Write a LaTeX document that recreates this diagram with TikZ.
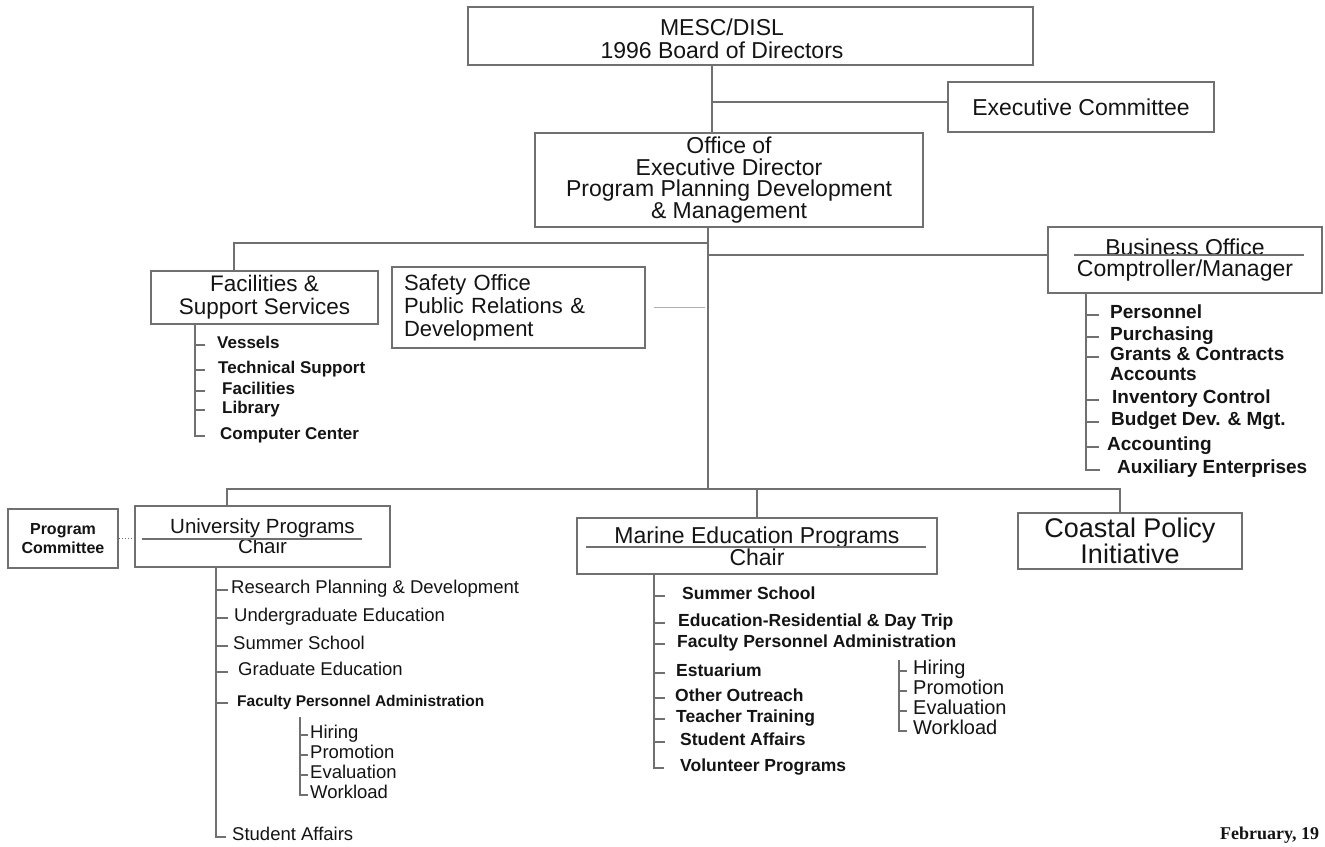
\documentclass[tikz,border=0pt]{standalone}
\usepackage{fontspec}
\setmainfont{Liberation Sans}
\newfontfamily\datefont{Liberation Serif}
\definecolor{rule}{RGB}{112,112,112}
\definecolor{ink}{RGB}{20,20,20}
\begin{document}
\begin{tikzpicture}[x=1pt,y=-1pt,
	box/.style={draw=rule,line width=1.1pt,inner sep=0pt,align=center,text=ink},
	item/.style={anchor=west,inner sep=0pt,text=ink,text height=0.72em,text depth=0pt},
	link/.style={draw=rule,line width=1.1pt}]
	\useasboundingbox[fill=white] (0,0) rectangle (1325,846);
	
	\node[box,minimum width=565pt,minimum height=58pt] (board) at (750.5,36) {};
	\node[text=ink,align=center,font=\fontsize{23}{23}\selectfont] (boardtxt) at (722,38.5) {MESC/DISL\\1996 Board of Directors};
	\node[box,minimum width=266pt,minimum height=50pt,font=\fontsize{23}{23}\selectfont] (exec) at (1081,107) {Executive Committee};
	\node[box,minimum width=388pt,minimum height=94pt,font=\fontsize{23}{21.5}\selectfont] (office) at (729,180) {Office of\\Executive Director\\Program Planning Development\\\& Management};
	\node[box,minimum width=227pt,minimum height=53pt,font=\fontsize{22.5}{23}\selectfont] (fac) at (264.5,297.5) {Facilities \&\\Support Services};
	\node[box,text width=229pt,inner xsep=12pt,minimum height=81pt,align=left,font=\fontsize{22}{23}\selectfont] (safety) at (518.5,307.5) {Safety Office\\Public Relations \&\\Development};
	\node[box,minimum width=274pt,minimum height=66pt,font=\fontsize{23}{21}\selectfont] (bus) at (1185,260) {Business Office\\Comptroller/Manager};
	\node[box,minimum width=110pt,minimum height=59pt,font=\bfseries\fontsize{16}{19}\selectfont] (progcom) at (63,538.5) {Program\\Committee};
	\node[box,minimum width=255pt,minimum height=61pt,font=\fontsize{20.5}{20}\selectfont] (univ) at (262.5,536.5) {University Programs\\Chair};
	\node[box,minimum width=360pt,minimum height=56pt,font=\fontsize{23}{22}\selectfont] (marine) at (757,546) {Marine Education Programs\\Chair};
	\node[box,minimum width=224pt,minimum height=56pt,font=\fontsize{27}{26}\selectfont] (coast) at (1130,541) {Coastal Policy\\Initiative};
	
	\draw[link] (bus.west) ++(27,-5) -- ++(230,0);
	\draw[link] (univ.west) ++(8,2.5) -- ++(220,0);
	\draw[link] (marine.west) ++(10,1) -- ++(340,0);
	
	\coordinate (topjoin) at (712,102);
	\coordinate (trunk) at (708,489);
	\coordinate (facjoin) at (234,243);
	\coordinate (busjoin) at (708,255);
	\coordinate (barleft) at (227,489);
	\coordinate (barright) at (1120,489);
	\draw[link] (board.south -| topjoin) -- (office.north -| topjoin);
	\draw[link] (topjoin) -- (exec.west |- topjoin);
	\draw[link] (office.south -| trunk) -- (trunk);
	\draw[link] (facjoin -| trunk) -- (facjoin) -- (facjoin |- fac.north);
	\draw[link] (busjoin) -- (busjoin -| bus.west);
	\draw[link,draw=rule!55] ([xshift=8pt]safety.east) -- ([xshift=-3pt]safety.east -| trunk);
	\draw[link] (barleft |- univ.north) -- (barleft) -- (barright) -- (barright |- coast.north);
	\draw[link] (marine.north) -- (marine.north |- trunk);
	\draw[link,dotted] (progcom.east) -- (progcom.east -| univ.west);
	
	\coordinate (fspine) at (195,0);
	\foreach \x/\y/\t [count=\i] in {217/345/Vessels,218/370/Technical Support,222/391/Facilities,222/410/Library,220/436/Computer Center}
		\node[item,font=\bfseries\fontsize{17}{17}\selectfont] (f\i) at (\x,\y) {\t};
	\draw[link] (fac.south -| fspine) -- (f5.west -| fspine) -- ++(10,0);
	\foreach \i in {1,...,4}
		\draw[link] (f\i.west -| fspine) -- ++(10,0);
	
	\coordinate (bspine) at (1086,0);
	\foreach \x/\y/\t [count=\i] in {1110/315/Personnel,1110/337/Purchasing,1110/357/Grants \& Contracts,1110/377/Accounts,1112/400/Inventory Control,1111/422/Budget Dev. \& Mgt.,1107/447/Accounting,1117/470/Auxiliary Enterprises}
		\node[item,font=\bfseries\fontsize{19}{19}\selectfont] (b\i) at (\x,\y) {\t};
	\draw[link] (bus.south -| bspine) -- (b8.west -| bspine) -- ++(14,0);
	\foreach \i in {1,2,3,5,6,7}
		\draw[link] (b\i.west -| bspine) -- ++(13,0);
	
	\coordinate (uspine) at (216,0);
	\foreach \x/\y/\t [count=\i] in {231/590/Research Planning \& Development,234/618/Undergraduate Education,233/646/Summer School,238/672/Graduate Education}
		\node[item,font=\fontsize{18.5}{18.5}\selectfont] (u\i) at (\x,\y) {\t};
	\node[item,font=\bfseries\fontsize{15.5}{15.5}\selectfont] (u5) at (237,703) {Faculty Personnel Administration};
	\node[item,font=\fontsize{18.5}{18.5}\selectfont] (u6) at (232,837) {Student Affairs};
	\draw[link] (univ.south -| uspine) -- (u6.west -| uspine) -- ++(10,0);
	\foreach \i in {1,...,5}
		\draw[link] (u\i.west -| uspine) -- ++(12,0);
	
	\coordinate (usub) at (300,0);
	\foreach \y/\t [count=\i] in {735/Hiring,755/Promotion,775/Evaluation,795/Workload}
		\node[item,font=\fontsize{18.5}{18.5}\selectfont] (h\i) at (310,\y) {\t};
	\draw[link] (h1.west -| usub) ++(0,-18) -- (h4.west -| usub) -- ++(8,0);
	\foreach \i in {1,...,3}
		\draw[link] (h\i.west -| usub) -- ++(8,0);
	
	\coordinate (mspine) at (654,0);
	\foreach \x/\y/\t [count=\i] in {682/596/Summer School,678/623/Education-Residential \& Day Trip,677/644/Faculty Personnel Administration,676/673/Estuarium,675/698/Other Outreach,676/719/Teacher Training,680/742/Student Affairs,680/768/Volunteer Programs}
		\node[item,font=\bfseries\fontsize{17.5}{17.5}\selectfont] (m\i) at (\x,\y) {\t};
	\draw[link] (marine.south -| mspine) -- (m8.west -| mspine) -- ++(10,0);
	\foreach \i in {1,...,7}
		\draw[link] (m\i.west -| mspine) -- ++(11,0);
	
	\coordinate (ksub) at (899,0);
	\foreach \y/\t [count=\i] in {671/Hiring,691/Promotion,711/Evaluation,731/Workload}
		\node[item,font=\fontsize{20}{20}\selectfont] (k\i) at (913,\y) {\t};
	\draw[link] (k1.west -| ksub) ++(0,-11) -- (k4.west -| ksub) -- ++(8,0);
	\foreach \i in {1,...,3}
		\draw[link] (k\i.west -| ksub) -- ++(8,0);
	
	\node[anchor=west,inner sep=0pt,text=ink,font=\datefont\bfseries\fontsize{18}{18}\selectfont] (date) at (1220,835) {February, 19};
\end{tikzpicture}
\end{document}
